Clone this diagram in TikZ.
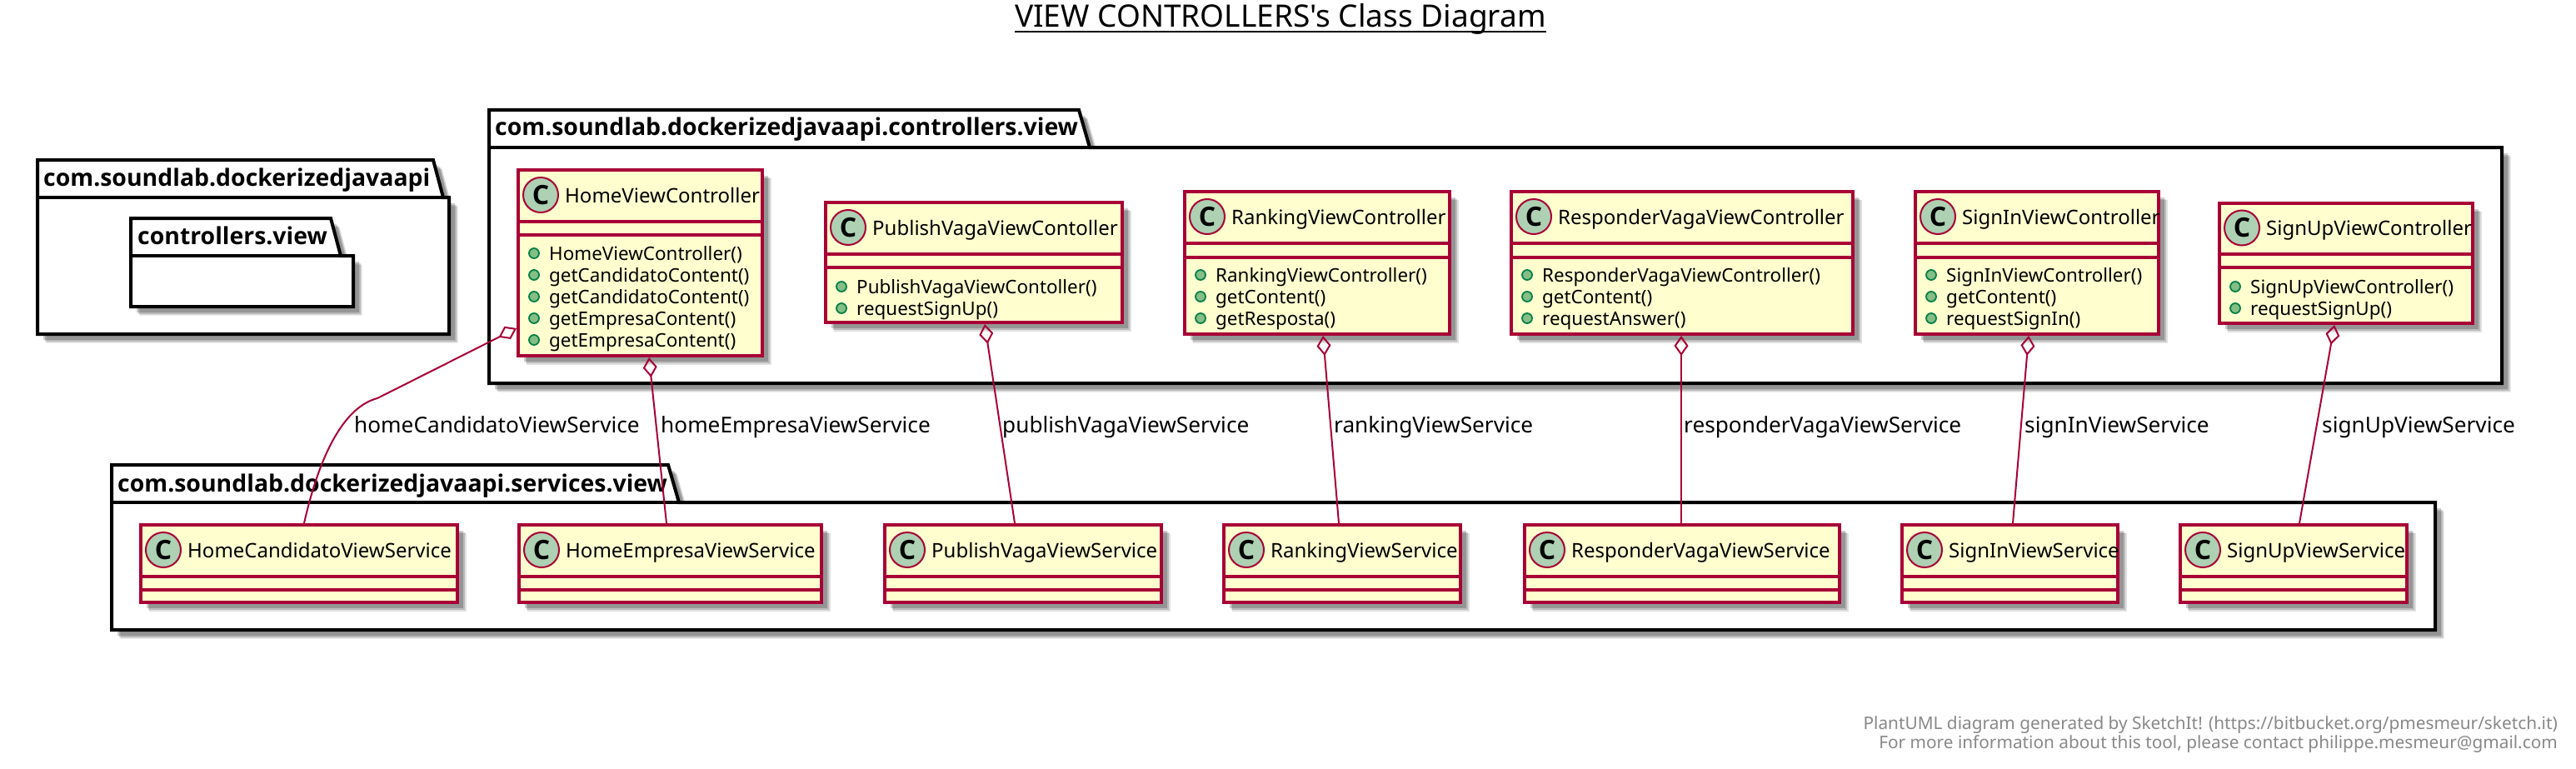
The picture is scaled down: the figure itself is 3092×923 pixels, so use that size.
\documentclass[tikz,border=0pt]{standalone}
\usepackage{fontspec}
\setmainfont{Noto Sans}
\newfontfamily\boldface{Open Sans}
\newfontfamily\plainface{Noto Sans}
\usetikzlibrary{arrows.meta,shadows}
\definecolor{umlred}{HTML}{A80036}
\definecolor{umlfill}{HTML}{FEFECE}
\definecolor{spotfill}{HTML}{ADD1B2}
\definecolor{plusfill}{HTML}{84BE84}
\definecolor{plusline}{HTML}{038048}
\definecolor{footgray}{HTML}{888888}
\newcommand{\pxfont}[1]{\fontsize{#1pt}{#1pt}\selectfont}
\tikzset{
  softshadow/.style={
    drop shadow={shadow xshift=10.5pt,shadow yshift=-10.5pt,fill=black,opacity=.12},
    drop shadow={shadow xshift=9pt,shadow yshift=-9pt,fill=black,opacity=.16},
    drop shadow={shadow xshift=7pt,shadow yshift=-7pt,fill=black,opacity=.20}},
  pkgshape/.style={draw=black,line width=4pt,fill=white,line join=miter,softshadow},
  pkgtitle/.style={anchor=base west,inner sep=0,font=\boldface\bfseries\pxfont{28.4}},
  classbox/.style={draw=umlred,fill=umlfill,line width=3.6pt,inner sep=0,softshadow},
  sepline/.style={draw=umlred,line width=3.6pt},
  spot/.style={circle,draw=umlred,fill=spotfill,line width=2pt,inner sep=0,minimum size=42pt,font=\boldface\bfseries\pxfont{32}},
  classname/.style={anchor=base west,inner sep=0,font=\pxfont{24}},
  plus/.style={circle,draw=plusline,fill=plusfill,line width=1.8pt,inner sep=0,minimum size=12pt},
  methodname/.style={anchor=base west,inner sep=0,font=\pxfont{22.4}},
  aggr/.style={draw=umlred,line width=2pt,{Diamond[open,length=24pt,width=17pt,line width=2pt]}-},
  rolelabel/.style={anchor=base west,inner sep=0,font=\pxfont{26.2}},
  footline/.style={anchor=base east,inner sep=0,text=footgray,font=\pxfont{20.8}}
}
\newcounter{mc}
\newcommand{\umlclass}[8]{%
  \pgfmathsetmacro{\cxx}{(#2+#4)/2}\pgfmathsetmacro{\cyy}{(#3+#5)/2}%
  \pgfmathsetmacro{\ww}{#4-#2-3.6}\pgfmathsetmacro{\hh}{#5-#3-3.6}%
  \pgfmathsetmacro{\hc}{(#3+#6)/2}%
  \node[classbox,minimum width=\ww pt,minimum height=\hh pt] (#1) at (\cxx,\cyy) {};
  \draw[sepline] (#2,#6) -- (#4,#6);
  \draw[sepline] (#2,#7) -- (#4,#7);
  \pgfmathsetmacro{\sx}{#2+29}%
  \node[spot] (#1-spot) at (\sx,\hc) {C};
  \pgfmathsetmacro{\tx}{#2+58}\pgfmathsetmacro{\ty}{\hc+9}%
  \node[classname] (#1-name) at (\tx,\ty) {#8};
}
\newcommand{\umlmethod}[3]{%
  \stepcounter{mc}%
  \pgfmathsetmacro{\px}{#1+21}\pgfmathsetmacro{\mx}{#1+39}\pgfmathsetmacro{\my}{#2+8}%
  \node[plus] (p\arabic{mc}) at (\px,#2) {};
  \node[methodname] (m\arabic{mc}) at (\mx,\my) {#3};
}
\begin{document}
\begin{tikzpicture}[x=1pt,y=-1pt]
\useasboundingbox[fill=white] (0,0) rectangle (3092,923);
\node[anchor=base west,inner sep=0,font=\plainface\pxfont{37}] (title) at (1218,33) {VIEW CONTROLLERS's Class Diagram};
\draw[line width=2pt] ([yshift=-5pt]title.base west) -- ([yshift=-5pt]title.base east);
\path[pkgshape] (45,192) -- (520,192) -- (532,237) -- (539,237) -- (539,401) -- (45,401) -- cycle;
\draw[line width=4pt] (45,237) -- (532,237);
\node[pkgtitle] (pa) at (52,223) {com.soundlab.dockerizedjavaapi};
\path[pkgshape] (157,262) -- (397,262) -- (409,307) -- (424,307) -- (424,368) -- (157,368) -- cycle;
\draw[line width=4pt] (157,307) -- (409,307);
\node[pkgtitle] (pb) at (165,293) {controllers.view};
\path[pkgshape] (587,132) -- (1295,132) -- (1308,177) -- (3003,177) -- (3003,460) -- (587,460) -- cycle;
\draw[line width=4pt] (587,177) -- (1308,177);
\node[pkgtitle] (pc) at (594,163) {com.soundlab.dockerizedjavaapi.controllers.view};
\path[pkgshape] (134,558) -- (802,558) -- (815,603) -- (2923,603) -- (2923,756) -- (134,756) -- cycle;
\draw[line width=4pt] (134,603) -- (815,603);
\node[pkgtitle] (pd) at (141,590) {com.soundlab.dockerizedjavaapi.services.view};
\umlclass{hvc}{620}{202}{917}{429}{266}{282}{HomeViewController}
\umlmethod{620}{304}{HomeViewController()}
\umlmethod{620}{330}{getCandidatoContent()}
\umlmethod{620}{356}{getCandidatoContent()}
\umlmethod{620}{382}{getEmpresaContent()}
\umlmethod{620}{408}{getEmpresaContent()}
\umlclass{pvc}{989}{241}{1349}{389}{305}{321}{PublishVagaViewContoller}
\umlmethod{989}{344}{PublishVagaViewContoller()}
\umlmethod{989}{370}{requestSignUp()}
\umlclass{rvc}{1420}{228}{1742}{403}{292}{309}{RankingViewController}
\umlmethod{1420}{330}{RankingViewController()}
\umlmethod{1420}{356}{getContent()}
\umlmethod{1420}{382}{getResposta()}
\umlclass{rpc}{1812}{228}{2226}{403}{292}{309}{ResponderVagaViewController}
\umlmethod{1812}{330}{ResponderVagaViewController()}
\umlmethod{1812}{356}{getContent()}
\umlmethod{1812}{382}{requestAnswer()}
\umlclass{sic}{2297}{228}{2593}{403}{292}{309}{SignInViewController}
\umlmethod{2297}{330}{SignInViewController()}
\umlmethod{2297}{356}{getContent()}
\umlmethod{2297}{382}{requestSignIn()}
\umlclass{suc}{2662}{242}{2970}{390}{305}{321}{SignUpViewController}
\umlmethod{2662}{344}{SignUpViewController()}
\umlmethod{2662}{370}{requestSignUp()}
\umlclass{hcs}{167}{628}{551}{725}{692}{708}{HomeCandidatoViewService}
\umlclass{hes}{621}{628}{988}{725}{692}{708}{HomeEmpresaViewService}
\umlclass{pvs}{1060}{628}{1396}{725}{692}{708}{PublishVagaViewService}
\umlclass{rvs}{1467}{628}{1755}{725}{692}{708}{RankingViewService}
\umlclass{rps}{1828}{628}{2210}{725}{692}{708}{ResponderVagaViewService}
\umlclass{sis}{2281}{628}{2544}{725}{692}{708}{SignInViewService}
\umlclass{sus}{2615}{628}{2891}{725}{692}{708}{SignUpViewService}
\draw[aggr] ([yshift=35pt]hvc.south west) -- (453,478) .. controls (415,488) and (385,540) .. ([xshift=198pt]hcs.north west);
\draw[aggr] ([xshift=159pt]hvc.south west) -- ([xshift=179pt]hes.north west);
\draw[aggr] ([xshift=193pt]pvc.south west) -- ([xshift=158pt]pvs.north west);
\draw[aggr] ([xshift=168pt]rvc.south west) -- ([xshift=140pt]rvs.north west);
\draw[aggr] ([xshift=206pt]rpc.south west) -- ([xshift=190pt]rps.north west);
\draw[aggr] ([xshift=138pt]sic.south west) -- ([xshift=135pt]sis.north west);
\draw[aggr] ([xshift=140pt]suc.south west) -- ([xshift=145pt]sus.north west);
\node[rolelabel] (l1) at (425,519) {homeCandidatoViewService};
\node[rolelabel] (l2) at (793,519) {homeEmpresaViewService};
\node[rolelabel] (l3) at (1203,519) {publishVagaViewService};
\node[rolelabel] (l4) at (1601,519) {rankingViewService};
\node[rolelabel] (l5) at (2021,519) {responderVagaViewService};
\node[rolelabel] (l6) at (2430,519) {signInViewService};
\node[rolelabel] (l7) at (2787,519) {signUpViewService};
\node[footline] (f1) at (3070,875) {PlantUML diagram generated by SketchIt! (https://bitbucket.org/pmesmeur/sketch.it)};
\node[footline] (f2) at (3070,898) {For more information about this tool, please contact philippe.mesmeur@gmail.com};
\end{tikzpicture}
\end{document}
